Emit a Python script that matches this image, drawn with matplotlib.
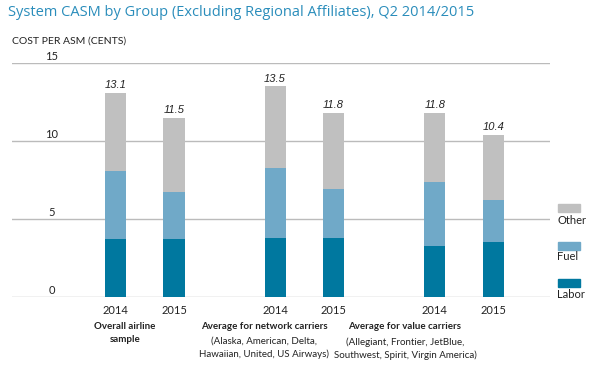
import matplotlib
matplotlib.use("Agg")
import matplotlib.pyplot as plt
from matplotlib.patches import Rectangle
import numpy as np

# Data
years = ["2014", "2015"]
groups = ["Overall airline\nsample", "Average for network carriers", "Average for value carriers"]
group_notes = ["", "(Alaska, American, Delta,\nHawaiian, United, US Airways)",
               "(Allegiant, Frontier, JetBlue,\nSouthwest, Spirit, Virgin America)"]
labor = [3.7, 3.7, 3.8, 3.8, 3.3, 3.5]
fuel = [4.4, 3.0, 4.5, 3.1, 4.1, 2.7]
other = [5.0, 4.8, 5.2, 4.9, 4.4, 4.2]
totals = [13.1, 11.5, 13.5, 11.8, 11.8, 10.4]
yticks = [0, 5, 10, 15]

c_labor = "#00789f"
c_fuel = "#70a9c8"
c_other = "#c0c0c0"

plt.rcParams['font.family'] = ['Lato', 'DejaVu Sans']

fig = plt.figure(figsize=(6, 3.66), dpi=100)
W, H = 600, 366
ax = fig.add_axes([12 / W, 1 - 297 / H, 538 / W, 234 / H])

# bar positions: two bars per group, groups spaced apart
x = np.array([g * 2.73 + i for g in range(3) for i in range(2)])
w = 0.36
labor_a = np.array(labor)
fuel_a = np.array(fuel)
other_a = np.array(other)
ax.bar(x, labor_a, w, color=c_labor, zorder=3)
ax.bar(x, fuel_a, w, bottom=labor_a, color=c_fuel, zorder=3)
ax.bar(x, other_a, w, bottom=labor_a + fuel_a, color=c_other, zorder=3)

for xi, t in zip(x, totals):
    ax.text(xi, t + 0.3, f"{t:.1f}", ha="center", va="baseline", fontsize=8,
            style="italic", family=["Liberation Sans", "DejaVu Sans"], color="#222222")

ax.set_xlim(-1.77, 7.43)
ax.set_ylim(0, 15)
for yv in yticks:
    ax.axhline(yv, color="#bbbbbb", lw=1, zorder=1)
    ax.text(0.074, yv + 0.2, str(yv), transform=ax.get_yaxis_transform(),
            ha="center", va="baseline", fontsize=8, color="#222222")
ax.axis("off")

# year labels
for xi, yr in zip(x, years * 3):
    fig.text(ax.transData.transform((xi, 0))[0] / W, 1 - 310 / H, yr,
             ha="center", va="center", fontsize=8, color="#222222")

# group labels
gx = [125, 264, 405]
for cx, name, note in zip(gx, groups, group_notes):
    fig.text(cx / W, 1 - 322 / H, name, ha="center", va="top", fontsize=7,
             fontweight="bold", color="#222222", linespacing=1.5)
    if note:
        fig.text(cx / W, 1 - 337 / H, note, ha="center", va="top", fontsize=7,
                 color="#222222", linespacing=1.5)

# legend
leg = [("Other", c_other, 204, 220), ("Fuel", c_fuel, 242, 257), ("Labor", c_labor, 279, 294)]
for name, col, py, ty in leg:
    fig.add_artist(Rectangle((558 / W, 1 - (py + 8) / H), 22 / W, 8 / H,
                             transform=fig.transFigure, color=col))
    fig.text(557 / W, 1 - ty / H, name, ha="left", va="center", fontsize=8, color="#222222")

fig.text(8 / W, 1 - 12 / H, "System CASM by Group (Excluding Regional Affiliates), Q2 2014/2015",
         ha="left", va="center", fontsize=10.5, family=["Open Sans", "DejaVu Sans"],
         color="#2a8dbb")
fig.text(12 / W, 1 - 41 / H, "COST PER ASM (CENTS)", ha="left", va="center",
         fontsize=7.5, color="#222222")

fig.savefig("out.png", dpi=100)
